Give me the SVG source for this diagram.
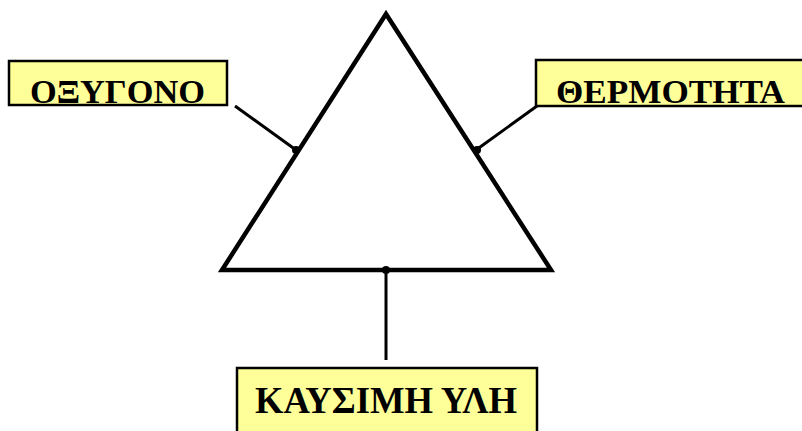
<svg xmlns="http://www.w3.org/2000/svg" width="802" height="431" viewBox="0 0 802 431">
<style>
.box{fill:#ffff99;stroke:#000;stroke-width:2.5}
.lbl{font-family:"Liberation Serif","Times New Roman",serif;font-weight:bold;fill:#000}
.ln{stroke:#000;stroke-width:3;fill:none}
</style>
<rect width="802" height="431" fill="#fff"/>
<g id="triangle">
<polygon points="386,14 222,270 551,270" fill="none" stroke="#000" stroke-width="4.5" stroke-linejoin="miter"/>
</g>
<g id="connectors">
<line class="ln" x1="235" y1="106" x2="296" y2="150"/>
<line class="ln" x1="537" y1="106" x2="476" y2="150"/>
<line class="ln" x1="386" y1="270" x2="386" y2="360"/>
<circle cx="296" cy="150" r="4"/>
<circle cx="477" cy="150" r="4"/>
<circle cx="386" cy="270" r="4"/>
</g>
<g id="oxygono">
<rect class="box" x="9" y="61" width="218" height="44"/>
<text class="lbl" x="30" y="103" font-size="34" textLength="175" lengthAdjust="spacingAndGlyphs">ΟΞΥΓΟΝΟ</text>
</g>
<g id="thermotita">
<rect class="box" x="536" y="60" width="270" height="46"/>
<text class="lbl" x="556" y="103" font-size="34" textLength="229" lengthAdjust="spacingAndGlyphs">ΘΕΡΜΟΤΗΤΑ</text>
</g>
<g id="kafsimi">
<rect class="box" x="237" y="368" width="300" height="70"/>
<text class="lbl" x="255" y="413" font-size="38" textLength="262" lengthAdjust="spacingAndGlyphs">ΚΑΥΣΙΜΗ ΥΛΗ</text>
</g>
</svg>
